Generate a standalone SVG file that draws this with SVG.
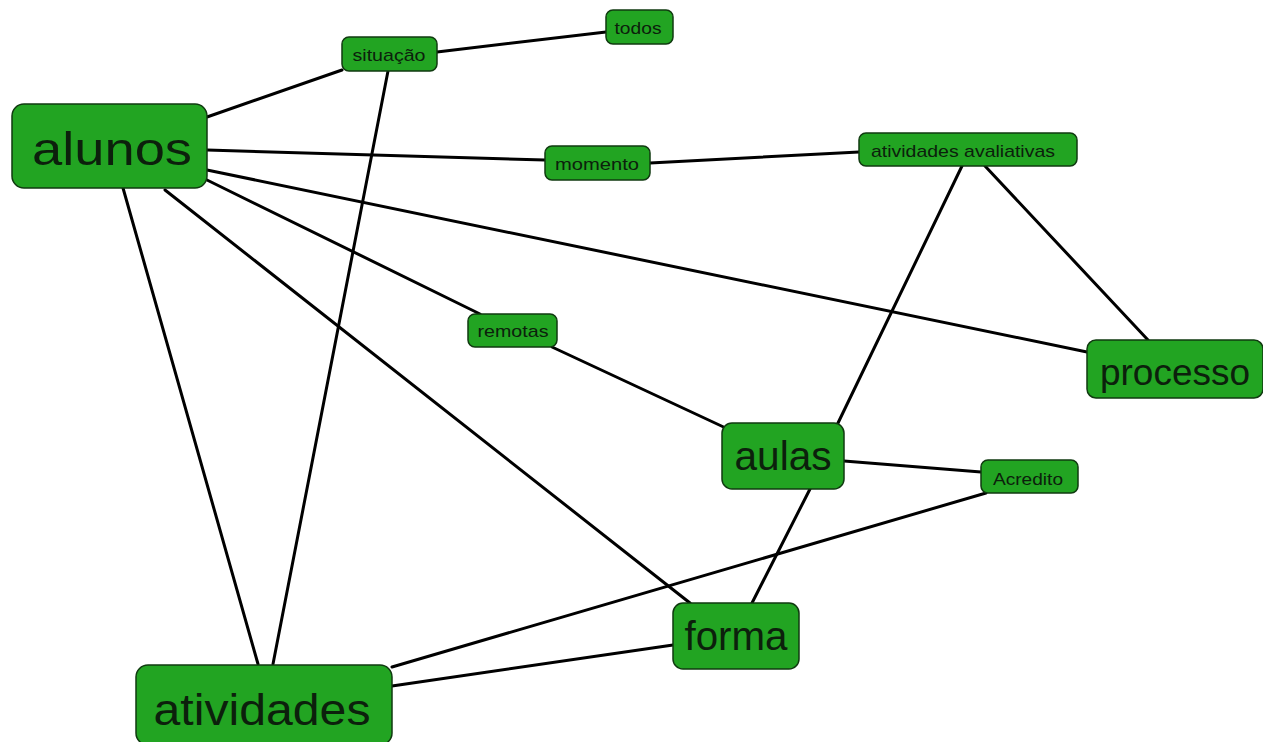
<svg xmlns="http://www.w3.org/2000/svg" width="1263" height="742" viewBox="0 0 1263 742">
<style>
.n rect{fill:#22a422;stroke:#103a10;stroke-width:1.5}
.n text{font-family:"Liberation Sans",Arial,sans-serif;fill:#0c200c;text-anchor:middle}
.n text.s{font-size:17px}
.e line{stroke:#000;stroke-width:3;stroke-linecap:round}
</style>
<rect width="1263" height="742" fill="#fff"/>
<g class="e" id="connectors">
<line x1="207" y1="117" x2="342" y2="70"/>
<line x1="437" y1="52" x2="606" y2="32"/>
<line x1="388" y1="71" x2="273" y2="664"/>
<line x1="207" y1="150" x2="545" y2="160"/>
<line x1="650" y1="163" x2="859" y2="152"/>
<line x1="207" y1="170" x2="1087" y2="352"/>
<line x1="207" y1="180" x2="480" y2="314"/>
<line x1="165" y1="190" x2="690" y2="603"/>
<line x1="123" y1="188" x2="258" y2="664"/>
<line x1="552" y1="347" x2="730" y2="430"/>
<line x1="962" y1="166" x2="838" y2="423"/>
<line x1="985" y1="166" x2="1148" y2="340"/>
<line x1="844" y1="461" x2="981" y2="472"/>
<line x1="810" y1="489" x2="752" y2="603"/>
<line x1="986" y1="493" x2="392" y2="667"/>
<line x1="673" y1="645" x2="392" y2="686"/>
</g>
<g class="n" id="alunos"><rect x="12" y="104" width="195" height="84" rx="12"/><text x="112" y="165" font-size="46" textLength="160" lengthAdjust="spacingAndGlyphs">alunos</text></g>
<g class="n" id="situacao"><rect x="342" y="37" width="95" height="34" rx="7"/><text class="s" x="389" y="61" textLength="73" lengthAdjust="spacingAndGlyphs">situação</text></g>
<g class="n" id="todos"><rect x="606" y="10" width="67" height="34" rx="7"/><text class="s" x="638" y="34" textLength="47" lengthAdjust="spacingAndGlyphs">todos</text></g>
<g class="n" id="momento"><rect x="545" y="146" width="105" height="34" rx="7"/><text class="s" x="597" y="170" textLength="84" lengthAdjust="spacingAndGlyphs">momento</text></g>
<g class="n" id="atividades-avaliativas"><rect x="859" y="133" width="218" height="33" rx="7"/><text class="s" x="963" y="157" textLength="184" lengthAdjust="spacingAndGlyphs">atividades avaliativas</text></g>
<g class="n" id="remotas"><rect x="468" y="314" width="89" height="33" rx="7"/><text class="s" x="513" y="337" textLength="71" lengthAdjust="spacingAndGlyphs">remotas</text></g>
<g class="n" id="processo"><rect x="1087" y="340" width="176" height="58" rx="9"/><text x="1175" y="385" font-size="36" textLength="150" lengthAdjust="spacingAndGlyphs">processo</text></g>
<g class="n" id="aulas"><rect x="722" y="423" width="122" height="66" rx="10"/><text x="783" y="470" font-size="40" textLength="97" lengthAdjust="spacingAndGlyphs">aulas</text></g>
<g class="n" id="acredito"><rect x="981" y="460" width="97" height="33" rx="7"/><text class="s" x="1028" y="485" textLength="70" lengthAdjust="spacingAndGlyphs">Acredito</text></g>
<g class="n" id="forma"><rect x="673" y="603" width="126" height="66" rx="10"/><text x="736" y="650" font-size="40" textLength="103" lengthAdjust="spacingAndGlyphs">forma</text></g>
<g class="n" id="atividades"><rect x="136" y="665" width="256" height="80" rx="12"/><text x="262" y="725" font-size="44" textLength="217" lengthAdjust="spacingAndGlyphs">atividades</text></g>
</svg>
